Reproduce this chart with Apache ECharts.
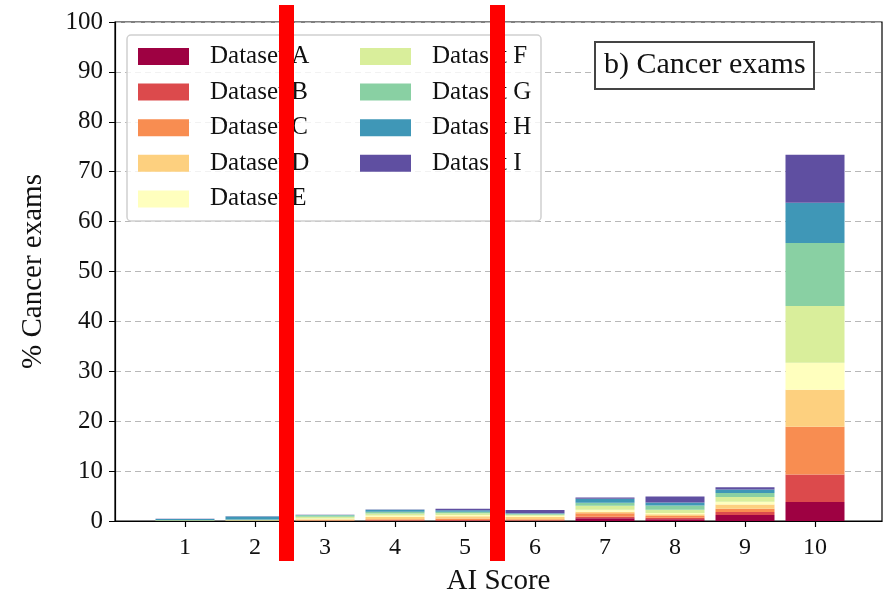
<!DOCTYPE html>
<html>
<head>
<meta charset="utf-8">
<script src="https://cdn.jsdelivr.net/npm/echarts@6/dist/echarts.min.js"></script>
<style>
  html, body { margin: 0; padding: 0; background: #fff; }
  #chart { width: 883px; height: 598px; }
</style>
</head>
<body>
<div id="chart"></div>
<script>
// AI score bins on the x axis
const aiScores = ['1', '2', '3', '4', '5', '6', '7', '8', '9', '10'];

// Share of cancer exams (%) per AI score, one array per dataset
const datasetA = [0.00, 0.00, 0.02, 0.05, 0.05, 0.05, 0.55, 0.35, 1.20, 3.8];
const datasetB = [0.00, 0.02, 0.05, 0.10, 0.15, 0.10, 0.30, 0.30, 0.60, 5.5];
const datasetC = [0.02, 0.03, 0.10, 0.20, 0.30, 0.20, 0.70, 0.35, 0.65, 9.6];
const datasetD = [0.03, 0.05, 0.20, 0.45, 0.45, 0.45, 0.30, 0.35, 0.85, 7.4];
const datasetE = [0.02, 0.02, 0.15, 0.30, 0.25, 0.25, 0.40, 0.25, 0.55, 5.4];
const datasetF = [0.05, 0.08, 0.35, 0.40, 0.35, 0.20, 0.80, 0.65, 0.95, 11.4];
const datasetG = [0.08, 0.10, 0.30, 0.35, 0.30, 0.20, 0.60, 0.85, 0.80, 12.6];
const datasetH = [0.20, 0.60, 0.05, 0.40, 0.30, 0.10, 0.80, 0.60, 0.70, 8.1];
const datasetI = [0.05, 0.05, 0.02, 0.05, 0.30, 0.65, 0.25, 1.20, 0.45, 9.6];

const seriesNames = ['Dataset A', 'Dataset B', 'Dataset C', 'Dataset D', 'Dataset E',
                     'Dataset F', 'Dataset G', 'Dataset H', 'Dataset I'];
const seriesValues = [datasetA, datasetB, datasetC, datasetD, datasetE,
                      datasetF, datasetG, datasetH, datasetI];
const seriesColors = ['#9e0142', '#dc4a4c', '#f88d51', '#fdd07f', '#ffffbe',
                      '#d9ee9b', '#89d0a3', '#3f97b7', '#5f4fa1'];

const yTicks = [0, 10, 20, 30, 40, 50, 60, 70, 80, 90, 100];

const FONT = '"Liberation Serif", "Times New Roman", serif';

const chart = echarts.init(document.getElementById('chart'), null, { renderer: 'canvas' });

// Stacked bars live on the inner grid (category axis); the outer grid holds the frame and y scale
const series = seriesNames.map((name, i) => ({
  name: name,
  type: 'bar',
  stack: 'exams',
  xAxisIndex: 1,
  yAxisIndex: 1,
  barWidth: 59,
  itemStyle: { color: seriesColors[i] },
  emphasis: { disabled: true },
  data: seriesValues[i]
}));

const legendCommon = {
  orient: 'vertical',
  top: 44,
  padding: 0,
  itemWidth: 51,
  itemHeight: 17,
  itemGap: 10.6,
  icon: 'rect',
  selectedMode: false,
  textStyle: { fontFamily: FONT, fontSize: 25, color: '#111', padding: [0, 0, 0, 16] },
  z: 10
};

// Both grids share the same vertical extent so the y scales coincide
const gridBox = { top: 22, bottom: 77, outerBoundsMode: 'none', containLabel: false };

chart.setOption({
  animation: false,
  backgroundColor: '#fff',
  title: {
    text: 'b) Cancer exams',
    left: 595,
    top: 42,
    padding: [8, 9, 9, 9],
    borderColor: '#444',
    borderWidth: 2,
    backgroundColor: '#fff',
    textStyle: { fontFamily: FONT, fontSize: 30, fontWeight: 'normal', color: '#111' },
    z: 10
  },
  legend: [
    Object.assign({}, legendCommon, { left: 138, data: seriesNames.slice(0, 5) }),
    Object.assign({}, legendCommon, { left: 360, data: seriesNames.slice(5) })
  ],
  grid: [
    Object.assign({
      left: 115, right: 1,
      show: true,
      borderColor: '#000',
      borderWidth: 1.2
    }, gridBox),
    Object.assign({ left: 150, right: 33 }, gridBox)
  ],
  xAxis: [
    {
      gridIndex: 0,
      type: 'value',
      min: 0,
      max: 1,
      name: 'AI Score',
      nameLocation: 'middle',
      nameGap: 46,
      nameTextStyle: { fontFamily: FONT, fontSize: 29, color: '#111' },
      axisLine: { show: true, lineStyle: { color: '#000', width: 1.2 } },
      axisTick: { show: false },
      axisLabel: { show: false },
      splitLine: { show: false }
    },
    {
      gridIndex: 1,
      type: 'category',
      data: aiScores,
      axisLine: { show: false },
      axisTick: { show: true, alignWithLabel: true, length: 6, lineStyle: { color: '#000', width: 1.2 } },
      axisLabel: { margin: 15, fontFamily: FONT, fontSize: 24, color: '#111' },
      splitLine: { show: false }
    }
  ],
  yAxis: [
    {
      gridIndex: 0,
      type: 'value',
      min: 0,
      max: 100,
      interval: 10,
      name: '% Cancer exams',
      nameLocation: 'middle',
      nameGap: 67,
      nameTextStyle: { fontFamily: FONT, fontSize: 29, color: '#111' },
      axisLine: { show: true, lineStyle: { color: '#000', width: 1.2 } },
      axisTick: { show: true, length: 6, customValues: yTicks, lineStyle: { color: '#000' } },
      axisLabel: { customValues: yTicks, margin: 12, fontFamily: FONT, fontSize: 25, color: '#111' },
      splitLine: { show: true, lineStyle: { color: '#b8b8b8', type: [6, 4], width: 1.2 } }
    },
    {
      gridIndex: 1,
      type: 'value',
      min: 0,
      max: 100,
      interval: 10,
      show: false,
      splitLine: { show: false }
    }
  ],
  graphic: [
    {
      type: 'rect',
      shape: { x: 127, y: 35, width: 414, height: 186, r: 4 },
      style: { fill: 'rgba(255,255,255,0.82)', stroke: '#d0d0d0', lineWidth: 1.5 },
      z: 5, silent: true
    },
    {
      type: 'rect',
      shape: { x: 279, y: 5, width: 15, height: 556 },
      style: { fill: '#ff0000' },
      z: 100, silent: true
    },
    {
      type: 'rect',
      shape: { x: 490, y: 5, width: 15, height: 556 },
      style: { fill: '#ff0000' },
      z: 100, silent: true
    }
  ],
  series: series
});
</script>
</body>
</html>
